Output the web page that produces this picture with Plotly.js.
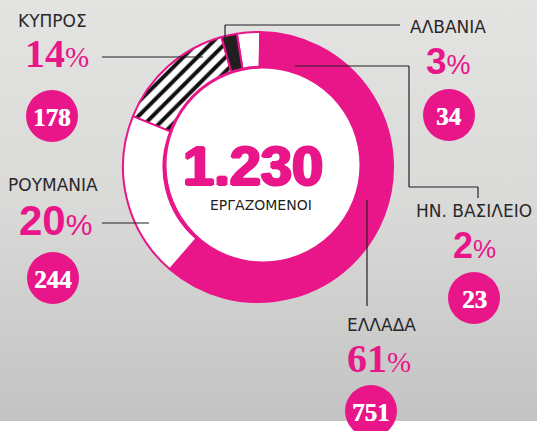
<!DOCTYPE html>
<html><head><meta charset="utf-8">
<script src="https://cdn.plot.ly/plotly-3.0.1.min.js"></script>
<style>
html,body{margin:0;padding:0;}
body{width:537px;height:431px;overflow:hidden;background:linear-gradient(to bottom,#e3e3e1 0px,#dadad9 200px,#c3c3c3 421px,#ffffff 421px);}
#chart{width:537px;height:431px;}
</style>
</head><body><div id="chart"></div>
<script>
// ---- data ----
const countries = ['ΑΛΒΑΝΙΑ', 'ΕΛΛΑΔΑ', 'ΡΟΥΜΑΝΙΑ', 'ΚΥΠΡΟΣ', 'ΗΝ. ΒΑΣΙΛΕΙΟ'];
const workers   = [34, 751, 244, 178, 23];
const percents  = [3, 61, 20, 14, 2];
const totalLabel = '1.230';
const centerLabel = 'ΕΡΓΑΖΟΜΕΝΟΙ';

// ---- style ----
const PINK = '#e9168a';
const DARK = '#231f20';
const W = 537, H = 431;
const px = x => x / W;
const py = y => 1 - y / H;

const sliceColors = ['#ffffff', PINK, '#ffffff', '#ffffff', DARK];
const slicePatterns = ['', '', '', '/', ''];

// label layout (pixel positions) for each country
const labelPos = {
  'ΑΛΒΑΝΙΑ':      {name:[448,27],  pct:[448,62],  circ:[449,115], pctSize:37, pctFont:'sans'},
  'ΕΛΛΑΔΑ':       {name:[381,325], pct:[379,358], circ:[371,411], pctSize:40, pctFont:'serif'},
  'ΡΟΥΜΑΝΙΑ':     {name:[53,185],  pct:[55,220],  circ:[53,278],  pctSize:42, pctFont:'sans'},
  'ΚΥΠΡΟΣ':       {name:[52,21],   pct:[57,54],   circ:[52,116],  pctSize:40, pctFont:'serif'},
  'ΗΝ. ΒΑΣΙΛΕΙΟ': {name:[474,211], pct:[474,246], circ:[474,298], pctSize:36, pctFont:'sans'}
};

const ring = {
  type: 'pie',
  values: workers,
  labels: countries,
  sort: false,
  direction: 'clockwise',
  rotation: -9,
  hole: 0.70,
  textinfo: 'none',
  hoverinfo: 'skip',
  showlegend: false,
  domain: {x: [px(123), px(393)], y: [py(302), py(32)]},
  marker: {
    colors: sliceColors,
    line: {color: PINK, width: 2},
    pattern: {shape: slicePatterns, fgcolor: '#111111', bgcolor: '#ffffff', size: 10, solidity: 0.4, fillmode: 'replace'}
  }
};

const disk = {
  type: 'pie',
  values: [1],
  labels: ['center'],
  sort: false,
  textinfo: 'none',
  hoverinfo: 'skip',
  showlegend: false,
  domain: {x: [px(164), px(362)], y: [py(263), py(67)]},
  marker: {colors: ['#ffffff'], line: {color: PINK, width: 3}}
};

const shapes = [];
const annotations = [];

function line(x0, y0, x1, y1) {
  shapes.push({type: 'line', xref: 'paper', yref: 'paper', x0: px(x0), y0: py(y0), x1: px(x1), y1: py(y1),
    line: {color: DARK, width: 1.2}});
}
// leader lines
line(102, 57, 203, 57);                 // ΚΥΠΡΟΣ
line(102, 223, 149, 223);               // ΡΟΥΜΑΝΙΑ
line(225, 37, 225, 25); line(225, 25, 400, 25);   // ΑΛΒΑΝΙΑ
line(295, 66, 409, 66); line(409, 66, 409, 187); line(409, 187, 478, 187); line(478, 187, 478, 198); // ΗΝ. ΒΑΣΙΛΕΙΟ
line(367, 200, 367, 306);               // ΕΛΛΑΔΑ

countries.forEach((c, i) => {
  const p = labelPos[c];
  annotations.push({xref: 'paper', yref: 'paper', x: px(p.name[0]), y: py(p.name[1]), xanchor: 'center', yanchor: 'middle',
    showarrow: false, text: c, font: {family: 'DejaVu Sans', size: 17, color: '#2a2828'}});
  const serif = p.pctFont === 'serif';
  const pctSym = Math.round(p.pctSize * 0.72);
  annotations.push({xref: 'paper', yref: 'paper', x: px(p.pct[0]), y: py(p.pct[1]), xanchor: 'center', yanchor: 'middle',
    showarrow: false,
    text: '<b>' + percents[i] + '</b><span style="font-size:' + pctSym + 'px">%</span>',
    font: {family: serif ? 'Liberation Serif' : 'Liberation Sans, Arial, sans-serif', size: p.pctSize, color: PINK}});
  shapes.push({type: 'circle', xref: 'paper', yref: 'paper',
    x0: px(p.circ[0] - 26), x1: px(p.circ[0] + 26), y0: py(p.circ[1] - 26), y1: py(p.circ[1] + 26),
    fillcolor: PINK, line: {width: 0}});
  annotations.push({xref: 'paper', yref: 'paper', x: px(p.circ[0]), y: py(p.circ[1] + 1), xanchor: 'center', yanchor: 'middle',
    showarrow: false, text: '<b>' + workers[i] + '</b>',
    font: {family: 'Liberation Serif', size: 25, color: '#ffffff', shadow: '0.5px 0px 0px #ffffff'}});
});

annotations.push({xref: 'paper', yref: 'paper', x: px(253), y: py(166), xanchor: 'center', yanchor: 'middle',
  showarrow: false, text: '<b>' + totalLabel + '</b>',
  font: {family: 'Liberation Sans', size: 56, color: PINK,
    shadow: '1.5px 0px 0px ' + PINK + ', -1.5px 0px 0px ' + PINK + ', 0px 1px 0px ' + PINK + ', 0px -1px 0px ' + PINK}});
annotations.push({xref: 'paper', yref: 'paper', x: px(261), y: py(205), xanchor: 'center', yanchor: 'middle',
  showarrow: false, text: centerLabel, font: {family: 'DejaVu Sans', size: 14, color: DARK}});

const layout = {
  width: W, height: H,
  margin: {l: 0, r: 0, t: 0, b: 0, pad: 0},
  paper_bgcolor: 'rgba(0,0,0,0)',
  plot_bgcolor: 'rgba(0,0,0,0)',
  showlegend: false,
  shapes: shapes,
  annotations: annotations
};

Plotly.newPlot('chart', [ring, disk], layout, {displayModeBar: false, staticPlot: true});
</script>
</body></html>
